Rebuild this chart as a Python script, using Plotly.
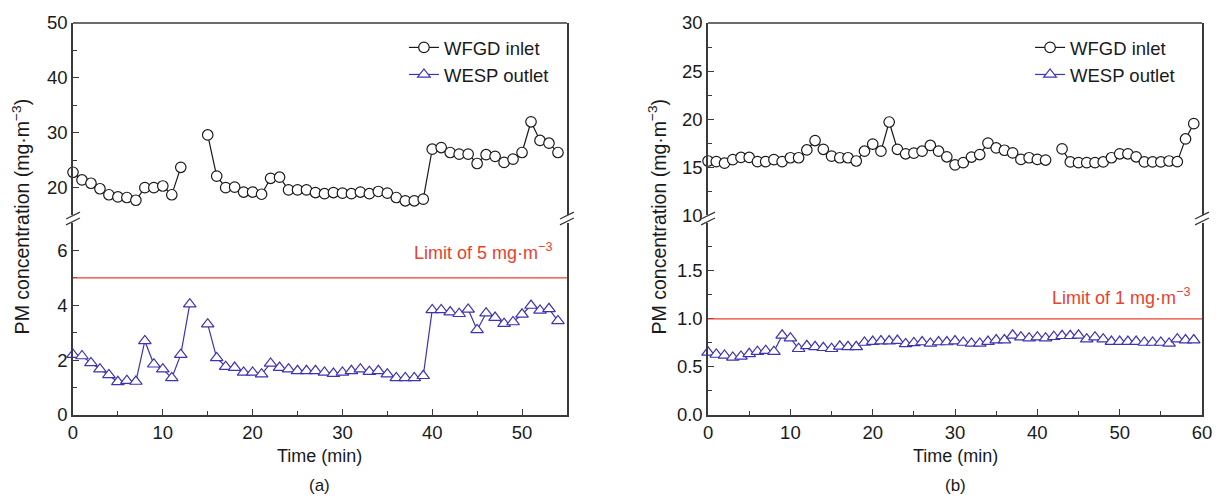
import plotly.graph_objects as go

# ---------------- data ----------------
time_a = list(range(0, 55))
inlet_a = [22.8, 21.4, 20.8, 19.8, 18.7, 18.3, 18.2, 17.7, 20.0, 20.0,
           20.3, 18.7, 23.7, None, None, 29.6, 22.1, 20.0, 20.1, 19.2,
           19.2, 18.8, 21.7, 21.9, 19.6, 19.6, 19.6, 19.1, 18.9, 19.1,
           19.0, 18.9, 19.2, 18.9, 19.3, 19.0, 18.2, 17.6, 17.6, 17.9,
           27.0, 27.3, 26.4, 26.1, 26.1, 24.4, 26.0, 25.7, 24.6, 25.2,
           26.4, 32.0, 28.6, 28.1, 26.4]
outlet_a = [2.2, 2.15, 1.9, 1.67, 1.46, 1.21, 1.25, 1.22, 2.7, 1.85,
            1.67, 1.35, 2.2, 4.04, None, 3.31, 2.08, 1.76, 1.73, 1.55,
            1.55, 1.49, 1.88, 1.73, 1.67, 1.61, 1.61, 1.61, 1.55, 1.51,
            1.55, 1.61, 1.67, 1.58, 1.61, 1.49, 1.35, 1.35, 1.35, 1.43,
            3.83, 3.83, 3.75, 3.69, 3.85, 3.10, 3.71, 3.55, 3.33, 3.39,
            3.67, 3.99, 3.81, 3.87, 3.43]

time_b = list(range(0, 60))
inlet_b = [15.63, 15.57, 15.40, 15.77, 16.00, 16.00, 15.57, 15.57, 15.77, 15.57,
           15.97, 15.97, 16.78, 17.76, 16.85, 16.14, 15.97, 15.97, 15.63, 16.65,
           17.39, 16.65, 19.69, 16.85, 16.38, 16.45, 16.65, 17.25, 16.65, 16.07,
           15.23, 15.46, 16.04, 16.30, 17.49, 16.99, 16.75, 16.48, 15.80, 15.97,
           15.80, 15.73, None, 16.89, 15.53, 15.46, 15.46, 15.46, 15.53, 15.97,
           16.38, 16.38, 16.07, 15.53, 15.53, 15.53, 15.63, 15.56, 17.93, 19.52]
outlet_b = [0.653, 0.63, 0.62, 0.60, 0.61, 0.637, 0.66, 0.67, 0.66, 0.83,
            0.80, 0.69, 0.72, 0.71, 0.70, 0.69, 0.715, 0.71, 0.71, 0.755,
            0.765, 0.77, 0.77, 0.775, 0.74, 0.75, 0.76, 0.745, 0.76, 0.76,
            0.77, 0.755, 0.745, 0.745, 0.765, 0.78, 0.78, 0.83, 0.81, 0.80,
            0.81, 0.80, 0.815, 0.825, 0.825, 0.83, 0.79, 0.81, 0.79, 0.765,
            0.765, 0.765, 0.765, 0.755, 0.755, 0.755, 0.745, 0.79, 0.78, 0.78]

limit_a = 5
limit_b = 1
limit_text_a = "Limit of 5 mg·m<sup>−3</sup>"
limit_text_b = "Limit of 1 mg·m<sup>−3</sup>"
series_names = ["WFGD inlet", "WESP outlet"]
ytitle = "PM concentration (mg·m<sup>−3</sup>)"
xtitle = "Time (min)"
panel_labels = ["(a)", "(b)"]

# ---------------- style ----------------
W, H = 1224, 498
ML, MR, MT, MB = 73, 15, 15, 83
PW, PH = W - ML - MR, H - MT - MB
FONT = "Arial, Liberation Sans, sans-serif"
AX = "#3a3a3a"
BLACK = "#1a1a1a"
BLUE = "#3d33b3"
RED = "#e8412f"

def px(xp):
    return (xp - ML) / PW

def py(yp):
    return (H - MB - yp) / PH

XA = [0.0, px(570)]
XB = [px(712), 1.0]
LOW = [0.0, 0.49]
UP = [0.51, 1.0]

fig = go.Figure()

def add_pair(t, inlet, outlet, xa, ylow, yup, legend):
    fig.add_trace(go.Scatter(
        x=t, y=inlet, xaxis=xa, yaxis=yup, name=series_names[0], mode="lines+markers",
        line=dict(color=BLACK, width=1.2),
        marker=dict(symbol="circle", size=10.5, color="white", line=dict(color=BLACK, width=1.2)),
        cliponaxis=False, legend=legend))
    fig.add_trace(go.Scatter(
        x=t, y=outlet, xaxis=xa, yaxis=ylow, name=series_names[1], mode="lines+markers",
        line=dict(color=BLUE, width=1.2),
        marker=dict(symbol="triangle-up", size=11, color="white", line=dict(color=BLUE, width=1.2)),
        cliponaxis=False, legend=legend))

add_pair(time_a, inlet_a, outlet_a, "x", "y", "y2", "legend")
add_pair(time_b, inlet_b, outlet_b, "x2", "y3", "y4", "legend2")

tickfont = dict(family=FONT, size=18.5, color=BLACK)

def xax(domain, rng, anchor, major, minor):
    return dict(domain=domain, range=rng, anchor=anchor, tickmode="array", tickvals=major,
                ticks="inside", ticklen=6, tickwidth=1.2, tickcolor=AX,
                minor=dict(tickmode="array", tickvals=minor, ticks="inside", ticklen=4,
                           tickwidth=1.2, tickcolor=AX),
                showline=True, linecolor=AX, linewidth=1.5, showgrid=False, zeroline=False,
                tickfont=tickfont, fixedrange=True)

def yax(domain, rng, anchor, major, minor, text=None):
    d = dict(domain=domain, range=rng, anchor=anchor, tickmode="array", tickvals=major,
             ticks="inside", ticklen=6, tickwidth=1.2, tickcolor=AX,
             minor=dict(tickmode="array", tickvals=minor, ticks="inside", ticklen=4,
                        tickwidth=1.2, tickcolor=AX),
             showline=True, mirror=True, linecolor=AX, linewidth=1.5, showgrid=False,
             zeroline=False, tickfont=tickfont, fixedrange=True)
    if text is not None:
        d["ticktext"] = text
    return d

legfont = dict(family=FONT, size=18.5, color=BLACK)

fig.update_layout(
    width=W, height=H, margin=dict(l=ML, r=MR, t=MT, b=MB),
    paper_bgcolor="white", plot_bgcolor="white",
    font=dict(family=FONT, size=18, color=BLACK),
    xaxis=xax(XA, [0, 55], "y", [0, 10, 20, 30, 40, 50], [5, 15, 25, 35, 45]),
    yaxis=yax(LOW, [0, 7], "x", [0, 2, 4, 6], [1, 3, 5]),
    yaxis2=yax(UP, [15, 50], "x", [20, 30, 40, 50], [25, 35, 45]),
    xaxis2=xax(XB, [0, 60], "y3", [0, 10, 20, 30, 40, 50, 60], [5, 15, 25, 35, 45, 55]),
    yaxis3=yax(LOW, [0, 2], "x2", [0, 0.5, 1.0, 1.5], [0.25, 0.75, 1.25, 1.75],
               ["0.0", "0.5", "1.0", "1.5"]),
    yaxis4=yax(UP, [10, 30], "x2", [10, 15, 20, 25, 30], [12.5, 17.5, 22.5, 27.5]),
    legend=dict(x=px(406), y=py(21), xanchor="left", yanchor="top",
                bgcolor="rgba(0,0,0,0)", font=legfont, tracegroupgap=0),
    legend2=dict(x=px(1036), y=py(21), xanchor="left", yanchor="top",
                 bgcolor="rgba(0,0,0,0)", font=legfont, tracegroupgap=0),
    showlegend=True,
)

shapes = []
# limit lines
shapes.append(dict(type="line", xref="x", yref="y", x0=0, x1=55, y0=limit_a, y1=limit_a,
                   line=dict(color=RED, width=1.3)))
shapes.append(dict(type="line", xref="x2", yref="y3", x0=0, x1=60, y0=limit_b, y1=limit_b,
                   line=dict(color=RED, width=1.3)))
# top borders
for dom in (XA, XB):
    shapes.append(dict(type="line", xref="paper", yref="paper", x0=dom[0], x1=dom[1], y0=1, y1=1,
                       line=dict(color=AX, width=1.5)))
# axis break marks
for xpix in (73, 570, 712, 1209):
    for dy in (0, 6):
        shapes.append(dict(type="line", xref="paper", yref="paper",
                           x0=px(xpix - 7), y0=py(221 - dy), x1=px(xpix + 7), y1=py(214 - dy),
                           line=dict(color=AX, width=1.3)))
fig.update_layout(shapes=shapes)

ann = []
ann.append(dict(text=limit_text_a, x=53.6, y=limit_a, xref="x", yref="y", xanchor="right",
                yanchor="bottom", yshift=13, showarrow=False, font=dict(color=RED, size=18)))
ann.append(dict(text=limit_text_b, x=58.8, y=limit_b, xref="x2", yref="y3", xanchor="right",
                yanchor="bottom", yshift=9, showarrow=False, font=dict(color=RED, size=18)))
for xc in (px(21), px(661)):
    ann.append(dict(text=ytitle, x=xc, y=py(212), xref="paper", yref="paper", textangle=-90,
                    xanchor="center", yanchor="middle",
                    showarrow=False, font=dict(size=19.5, color=BLACK)))
for dom, lab in ((XA, panel_labels[0]), (XB, panel_labels[1])):
    xc = (dom[0] + dom[1]) / 2
    ann.append(dict(text=xtitle, x=xc, y=py(457), xref="paper", yref="paper", showarrow=False,
                    xanchor="center", yanchor="middle", font=dict(size=18, color=BLACK)))
    ann.append(dict(text=lab, x=xc, y=py(487), xref="paper", yref="paper", showarrow=False,
                    xanchor="center", yanchor="middle", font=dict(size=17, color=BLACK)))
fig.update_layout(annotations=ann)

fig.write_html("out.html", config={"displayModeBar": False},
               post_script="document.body.style.margin='0px';")
